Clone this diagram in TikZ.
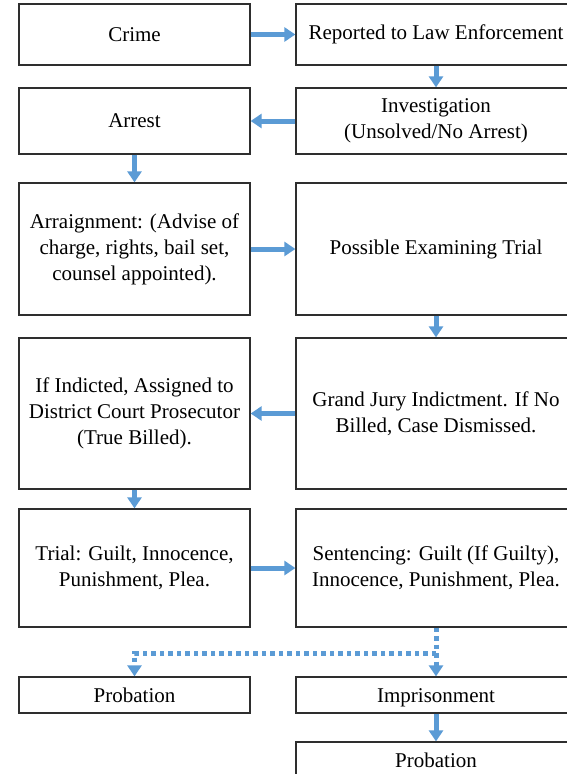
\documentclass[tikz,border=0pt]{standalone}
\usepackage{fontspec}
\setmainfont{Liberation Serif}
\usetikzlibrary{arrows.meta}
\definecolor{arrblue}{HTML}{5B9BD5}
\definecolor{boxgray}{HTML}{2E2E2E}
\begin{document}
\begin{tikzpicture}[x=1pt,y=-1pt,
  box/.style={draw=boxgray, line width=1.3pt, fill=white, align=center, inner sep=0pt, font=\fontsize{21}{26}\selectfont},
  lbox/.style={box, minimum width=231pt},
  rbox/.style={box, minimum width=280pt},
  onebox/.style={text height=15pt, text depth=1pt, minimum height=36pt},
  flow/.style={draw=arrblue, line width=5pt, -{Triangle[length=11pt,width=14pt]}},
  dotflow/.style={flow, dash pattern=on 4.5pt off 4pt}]
\useasboundingbox (0,0) rectangle (567,774);
\clip (0,0) rectangle (567,774);
\fill[white] (0,0) rectangle (567,774);
% row 1
\node[lbox, minimum height=61pt] (crime) at (134.5,34.5) {Crime};
\node[rbox, minimum height=61pt] (rep) at (436,34.5) {Reported to Law Enforcement};
% row 2
\node[lbox, minimum height=66pt] (arrest) at (134.5,121) {Arrest};
\node[rbox, minimum height=66pt] (inv) at (436,121) {Investigation\\(Unsolved/No Arrest)};
% row 3
\node[lbox, minimum height=132pt] (arr) at (134.5,249) {Arraignment: (Advise of\\charge, rights, bail set,\\counsel appointed).};
\node[rbox, minimum height=132pt] (pet) at (436,249) {Possible Examining Trial};
% row 4
\node[lbox, minimum height=151pt] (ind) at (134.5,413.5) {If Indicted, Assigned to\\District Court Prosecutor\\(True Billed).};
\node[rbox, minimum height=151pt] (gj) at (436,413.5) {Grand Jury Indictment. If No\\Billed, Case Dismissed.};
% row 5
\node[lbox, minimum height=118pt] (trial) at (134.5,568) {Trial: Guilt, Innocence,\\Punishment, Plea.};
\node[rbox, minimum height=118pt] (sent) at (436,568) {Sentencing: Guilt (If Guilty),\\Innocence, Punishment, Plea.};
% row 6
\node[lbox, onebox] (prob1) at (134.5,695) {Probation};
\node[rbox, onebox] (imp) at (436,695) {Imprisonment};
% row 7
\node[rbox, onebox] (prob2) at (436,760) {Probation};
% connectors
\draw[flow] (crime.east) -- (rep.west);
\draw[flow] (rep.south) -- (inv.north);
\draw[flow] (inv.west) -- (arrest.east);
\draw[flow] (arrest.south) -- (arr.north);
\draw[flow] (arr.east) -- (pet.west);
\draw[flow] (pet.south) -- (gj.north);
\draw[flow] (gj.west) -- (ind.east);
\draw[flow] (ind.south) -- (trial.north);
\draw[flow] (trial.east) -- (sent.west);
\draw[flow] (imp.south) -- (prob2.north);
\coordinate (split) at (436,653);
\draw[dotflow] (sent.south) -- (split) -- (imp.north);
\draw[dotflow] (split) -| (prob1.north);
\end{tikzpicture}
\end{document}
